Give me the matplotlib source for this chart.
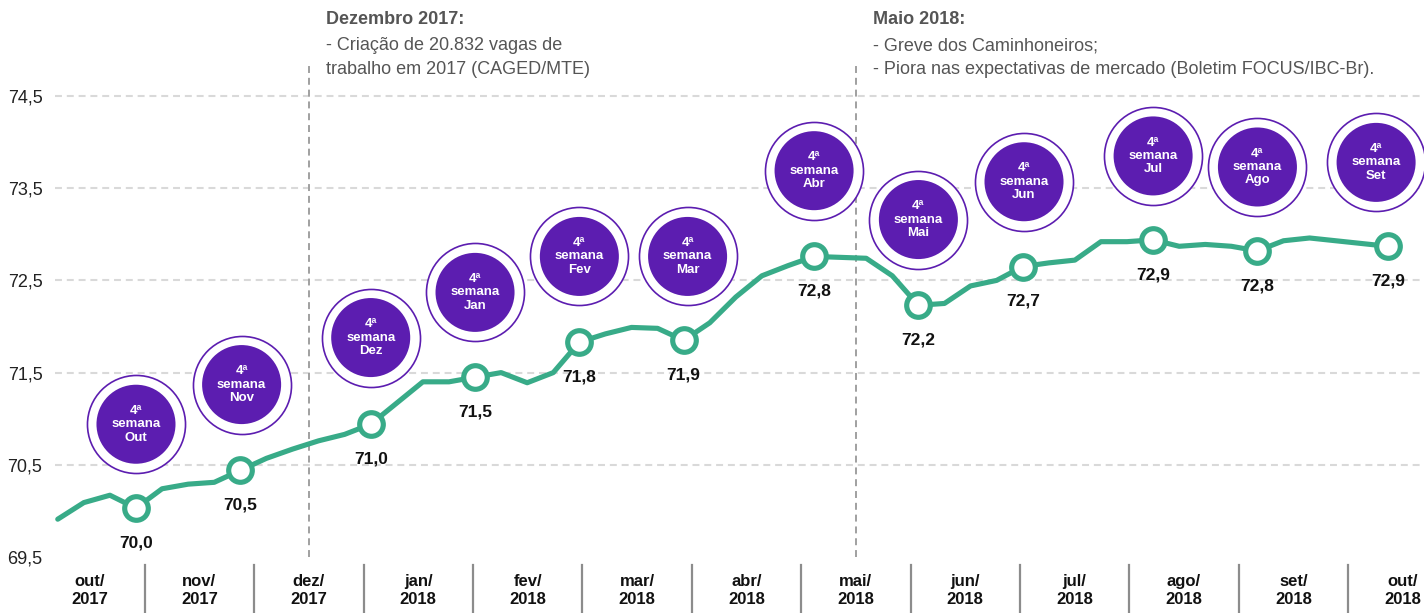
import matplotlib
matplotlib.use("Agg")
import matplotlib.pyplot as plt
import matplotlib.transforms as mtransforms

plt.rcParams['font.family'] = ['Liberation Sans', 'DejaVu Sans']
plt.rcParams['lines.scale_dashes'] = False

# ---------------- data ----------------
month_labels = ["out/\n2017", "nov/\n2017", "dez/\n2017", "jan/\n2018", "fev/\n2018",
                "mar/\n2018", "abr/\n2018", "mai/\n2018", "jun/\n2018", "jul/\n2018",
                "ago/\n2018", "set/\n2018", "out/\n2018"]

weekly_values = [69.91, 70.09, 70.17, 70.03, 70.24, 70.29, 70.31, 70.44, 70.57, 70.67,
                 70.76, 70.83, 70.94, 71.17, 71.40, 71.40, 71.45, 71.50, 71.39, 71.50,
                 71.83, 71.92, 71.99, 71.98, 71.85, 72.04, 72.32, 72.55, 72.66, 72.76,
                 72.75, 72.74, 72.55, 72.23, 72.25, 72.44, 72.50, 72.65, 72.69, 72.72,
                 72.92, 72.92, 72.94, 72.87, 72.89, 72.87, 72.82, 72.93, 72.96, 72.93,
                 72.90, 72.87]

marker_weeks = [3, 7, 12, 16, 20, 24, 29, 33, 37, 42, 46, 51]
marker_labels = ["70,0", "70,5", "71,0", "71,5", "71,8", "71,9",
                 "72,8", "72,2", "72,7", "72,9", "72,8", "72,9"]

bubble_names = ["Out", "Nov", "Dez", "Jan", "Fev", "Mar",
                "Abr", "Mai", "Jun", "Jul", "Ago", "Set"]
bubble_x = [3, 7.05, 12, 16, 20, 24.15, 29, 33, 37.05, 42, 46, 50.55]
bubble_y = [70.94, 71.37, 71.88, 72.37, 72.76, 72.76,
            73.69, 73.16, 73.57, 73.85, 73.73, 73.78]

y_ticks = [69.5, 70.5, 71.5, 72.5, 73.5, 74.5]

event_months = [2, 7]  # dez/2017, mai/2018
event_titles = ["Dezembro 2017:", "Maio 2018:"]
event_lines = [["- Criação de 20.832 vagas de", "trabalho em 2017 (CAGED/MTE)"],
               ["- Greve dos Caminhoneiros;",
                "- Piora nas expectativas de mercado (Boletim FOCUS/IBC-Br)."]]

# ---------------- layout ----------------
W, H = 1424, 613
fig = plt.figure(figsize=(W / 100, H / 100), dpi=100)
ax_left, ax_bottom_px = 55, 557
ax = fig.add_axes([ax_left / W, (H - ax_bottom_px) / H, 1 - ax_left / W, ax_bottom_px / H])

px_per_week = 26.08
week0_px = 57.75
px_per_unit = 92.2
ax.set_xlim((ax_left - week0_px) / px_per_week, (W - week0_px) / px_per_week)
ax.set_ylim(69.5, 69.5 + ax_bottom_px / px_per_unit)

month_step = 109.4 / px_per_week
month_first = (90 - week0_px) / px_per_week
month_pos = [month_first + month_step * i for i in range(len(month_labels))]

GREEN = "#38ab88"
PURPLE = "#5c1db0"
GRID = "#d9d9d9"

for s in ax.spines.values():
    s.set_visible(False)

# horizontal grid
for yv in y_ticks[1:]:
    ax.axhline(yv, color=GRID, lw=1.5, linestyle=(0, (5, 3.5)), zorder=0)

# event dashed vertical lines
top_val = 69.5 + (557 - 65) / px_per_unit
for m in event_months:
    ax.plot([month_pos[m], month_pos[m]], [69.5, top_val], color="#a0a0a0",
            lw=1.4, linestyle=(0, (5, 3.5)), zorder=1)

# month separators below axis
trans = mtransforms.blended_transform_factory(ax.transData, ax.transAxes)
for i in range(len(month_labels) - 1):
    xs = month_pos[i] + month_step / 2
    ax.plot([xs, xs], [-8 / 557, -60 / 557], transform=trans, color="#8c8c8c",
            lw=1.6, clip_on=False)

# line
x_weeks = list(range(len(weekly_values)))
ax.plot(x_weeks, weekly_values, color=GREEN, lw=3.7, solid_joinstyle='round',
        solid_capstyle='round', zorder=3)
ax.plot(marker_weeks, [weekly_values[i] for i in marker_weeks], linestyle='none',
        marker='o', ms=17, mfc='white', mec=GREEN, mew=3.7, zorder=4)

for w, lab in zip(marker_weeks, marker_labels):
    ax.annotate(lab, (w, weekly_values[w]), xytext=(0, -25), textcoords='offset points',
                ha='center', va='center', fontsize=12.5, fontweight='bold',
                color='#111111', zorder=5)

# bubbles
ax.scatter(bubble_x, bubble_y, s=70.6 ** 2, facecolor='white', edgecolor=PURPLE,
           linewidth=1.2, zorder=5)
ax.scatter(bubble_x, bubble_y, s=56.9 ** 2, facecolor=PURPLE, edgecolor='none', zorder=6)
for bx, by, name in zip(bubble_x, bubble_y, bubble_names):
    ax.text(bx, by, "4ª\nsemana\n" + name, ha='center', va='center', color='white',
            fontsize=9.5, fontweight='bold', linespacing=1.15, zorder=7)

# ticks
ax.set_yticks(y_ticks)
ax.set_yticklabels([f"{v:.1f}".replace('.', ',') for v in y_ticks])
ax.tick_params(axis='y', length=0, pad=9, labelsize=13, labelcolor='#222222')
ax.set_xticks(month_pos)
ax.set_xticklabels(month_labels, fontweight='bold', linespacing=1.3)
ax.tick_params(axis='x', length=0, pad=12, labelsize=12, labelcolor='#111111')

# event annotations
for m, title, lines in zip(event_months, event_titles, event_lines):
    xpx = week0_px + month_pos[m] * px_per_week + 17
    fig.text(xpx / W, 1 - 20 / H, title, ha='left', va='center', fontsize=13,
             fontweight='bold', color='#555555')
    for k, ln in enumerate(lines):
        fig.text(xpx / W, 1 - (46 + 24 * k) / H, ln, ha='left', va='center',
                 fontsize=13, color='#555555')

fig.savefig("out.png", dpi=100)
